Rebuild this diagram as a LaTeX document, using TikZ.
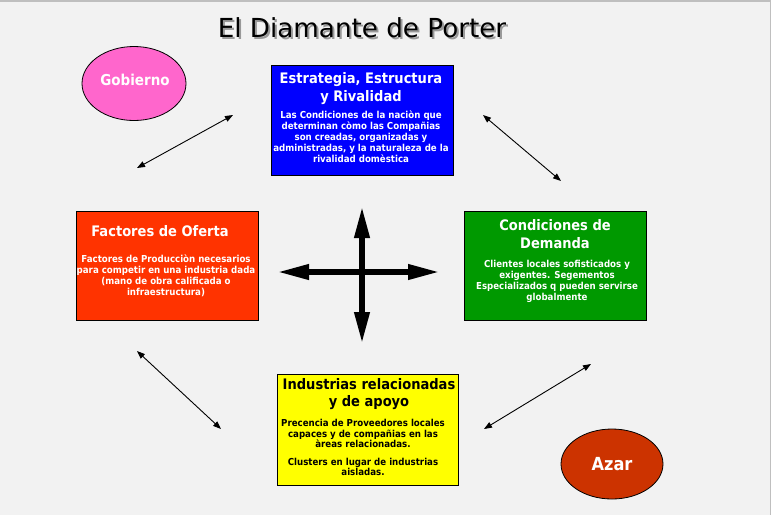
\documentclass[tikz,border=0pt]{standalone}
\usepackage{fontspec}
\setmainfont{DejaVu Sans}[FakeStretch=0.9]
\newfontfamily\titlefont{DejaVu Sans}
\usetikzlibrary{arrows.meta,shapes.geometric}
\definecolor{bg}{HTML}{F2F2F2}
\definecolor{cblue}{HTML}{0000FF}
\definecolor{cgreen}{HTML}{009900}
\definecolor{cred}{HTML}{FF3300}
\definecolor{cyellow}{HTML}{FFFF00}
\definecolor{cpink}{HTML}{FF66CC}
\definecolor{cazar}{HTML}{CC3300}
\tikzset{
  box/.style={draw=black, line width=1pt, rectangle, inner sep=0pt},
  oval/.style={draw=black, line width=0.8pt, ellipse, inner sep=0pt},
  head/.style={inner sep=0pt, align=center, font=\bfseries\fontsize{14.5}{17.5}\selectfont},
  body/.style={inner sep=0pt, align=center, font=\bfseries\fontsize{9.6}{11}\selectfont},
  thin/.style={line width=0.9pt, {Triangle[length=8pt,width=6pt]}-{Triangle[length=8pt,width=6pt]}},
  thick/.style={line width=6.5pt, {Triangle[length=33pt,width=14pt]}-{Triangle[length=33pt,width=14pt]}},
}
\newcommand{\shadowtext}[1]{\rlap{\hspace{2pt}\raisebox{-2pt}{\textcolor{black!40}{#1}}}#1}
\begin{document}
\begin{tikzpicture}[x=1pt,y=-1pt]
\fill[bg] (0,0) rectangle (771,515);
\useasboundingbox (0,0) rectangle (771,515);
\draw[black!25, line width=1.5pt] (0,0.75) -- (771,0.75);
\draw[black!25, line width=1.5pt] (770.25,0) -- (770.25,515);
% title
\node[black, inner sep=0pt, font=\titlefont\fontsize{26.2}{30}\selectfont] (title) at (362,28.5) {\shadowtext{El Diamante de Porter}};
% ellipses
\node[oval, fill=cpink, minimum width=104pt, minimum height=74pt] (gob) at (134,83.5) {};
\node[text=white, font=\bfseries\fontsize{15}{18}\selectfont] (gobt) at (135,80) {Gobierno};
\node[oval, fill=cazar, minimum width=102pt, minimum height=70pt] (azar) at (612,464) {};
\node[text=white, font=\bfseries\fontsize{18}{21}\selectfont] (azart) at (612,464) {Azar};
% blue box
\node[box, fill=cblue, minimum width=182pt, minimum height=110pt] (est) at (362,120) {};
\node[head, text=white] (esth) at (361,88.5) {Estrategia, Estructura\\y Rivalidad};
\node[body, text=white] (estb) at (361,136.5) {Las Condiciones de la naciòn que\\determinan còmo las Compañias\\son creadas, organizadas y\\administradas, y la naturaleza de la\\rivalidad domèstica};
% red box
\node[box, fill=cred, minimum width=182pt, minimum height=109pt] (fac) at (167.5,265.5) {};
\node[head, text=white] (fach) at (160,231) {Factores de Oferta};
\node[body, text=white] (facb) at (166,276) {Factores de Producciòn necesarios\\para competir en una industria dada\\(mano de obra calificada o\\infraestructura)};
% green box
\node[box, fill=cgreen, minimum width=182pt, minimum height=109pt] (dem) at (555.5,265.5) {};
\node[head, text=white] (demh) at (555,234) {Condiciones de\\Demanda};
\node[body, text=white] (demb) at (557,281.5) {Clientes locales sofisticados y\\exigentes. Segementos\\Especializados q pueden servirse\\globalmente};
% yellow box
\node[box, fill=cyellow, minimum width=181pt, minimum height=111pt] (ind) at (367.5,430) {};
\node[head, text=black] (indh) at (369,394) {Industrias relacionadas\\y de apoyo};
\node[body, text=black, font=\bfseries\fontsize{9.6}{10.5}\selectfont] (indb1) at (363,433.5) {Precencia de Proveedores locales\\capaces y de compañias en las\\àreas relacionadas.};
\node[body, text=black, font=\bfseries\fontsize{9.6}{10.5}\selectfont] (indb2) at (363,467) {Clusters en lugar de industrias\\aisladas.};
% thin arrows
\coordinate (a1) at (137,168); \coordinate (a2) at (233,115);
\coordinate (b1) at (483,115); \coordinate (b2) at (561,181);
\coordinate (c1) at (137,351); \coordinate (c2) at (221,429);
\coordinate (d1) at (484,429); \coordinate (d2) at (591,364);
\draw[thin] (a1) -- (a2);
\draw[thin] (b1) -- (b2);
\draw[thin] (c1) -- (c2);
\draw[thin] (d1) -- (d2);
% cross
\coordinate (xl) at (276,272); \coordinate (xr) at (441,272);
\coordinate (xt) at (362,205); \coordinate (xb) at (362,345);
\draw[thick] (xl) -- (xr);
\draw[thick] (xt) -- (xb);
\end{tikzpicture}
\end{document}
